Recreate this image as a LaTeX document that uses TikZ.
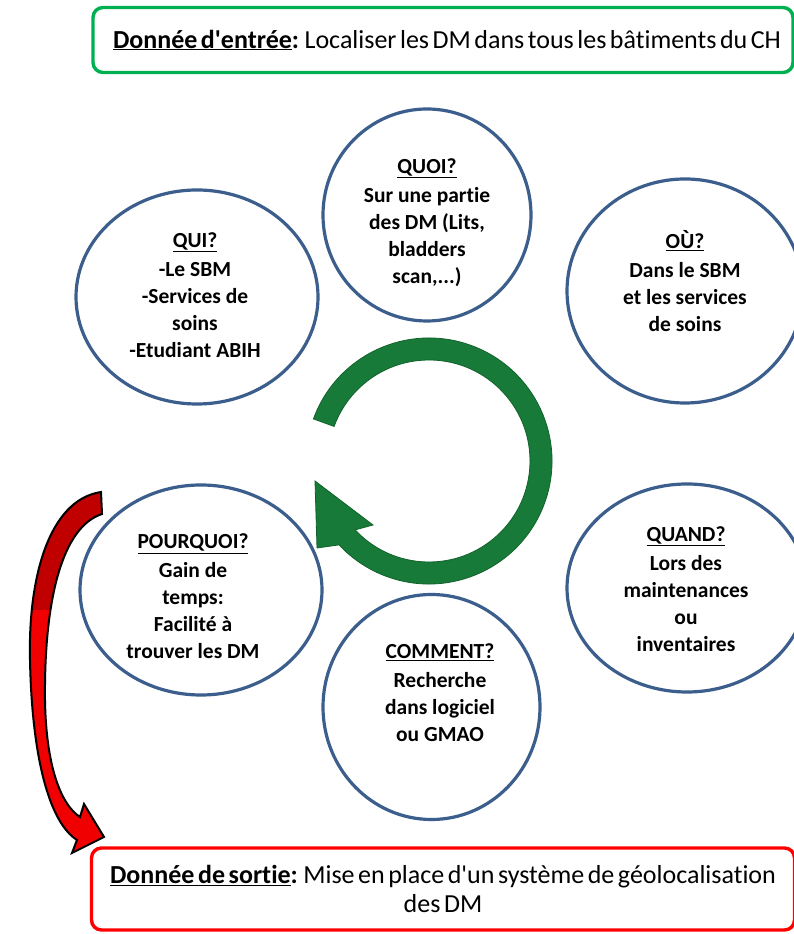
\documentclass[tikz,border=0pt]{standalone}
\usepackage{fontspec}
\setmainfont{Carlito}[Ligatures=CommonOff]
\newfontfamily\boxfont{Carlito}[Ligatures=CommonOff, WordSpace=0.6]
\usetikzlibrary{shapes.geometric,calc}
\definecolor{cblue}{RGB}{59,94,140}
\definecolor{boxgreen}{RGB}{0,176,80}
\definecolor{boxred}{RGB}{255,0,0}
\definecolor{arrgreen}{RGB}{24,122,56}
\definecolor{arrgreenedge}{RGB}{18,98,44}
\definecolor{reddark}{RGB}{192,0,0}
\definecolor{redlight}{RGB}{240,0,0}
\def\redarrowpath{(101,442) .. controls (48,434) and (28,354) .. (30,274) .. controls (32,174) and (50,111) .. (77,94) -- (72,81) -- (104,97) -- (84,130) -- (80,117) .. controls (60,130) and (46,170) .. (45,234) .. controls (44,334) and (62,407) .. (102,420) -- cycle}
\begin{document}
\begin{tikzpicture}[x=1pt,y=1pt,
  bubble/.style={draw=cblue, line width=3.2pt, ellipse, inner sep=0pt},
  bubbletext/.style={align=center, inner sep=0pt, font=\bfseries\fontsize{21.5}{27}\selectfont},
  framebox/.style={rounded corners=10pt, line width=3.4pt, fill=white},
  boxtext/.style={font=\boxfont\fontsize{26}{29}\selectfont}
]
\path[fill=white] (0,0) rectangle (794,934);
\useasboundingbox (0,0) rectangle (794,934);

% top input box
\node[framebox, draw=boxgreen, minimum width=700pt, minimum height=65pt,
  inner xsep=0pt, boxtext] (entree) at (443,894)
  {\makebox[680pt][l]{\hspace*{10pt}\textbf{\underline{Donnée d\textquotesingle entrée}:} Localiser les DM dans tous les bâtiments du CH}};

% bottom output box
\node[framebox, draw=boxred, minimum width=703pt, minimum height=82pt,
  align=center, boxtext] (sortie) at (443,45)
  {\textbf{\underline{Donnée de sortie}:} Mise en place d\textquotesingle un système de géolocalisation\\des DM};

% ellipses
\node[bubble, minimum width=242pt, minimum height=214pt] (qui) at (197,637) {};
\node[bubble, minimum width=208pt, minimum height=212pt] (quoi) at (427,719) {};
\node[bubble, minimum width=236pt, minimum height=224pt] (ou) at (685,643) {};
\node[bubble, minimum width=240pt, minimum height=208pt] (quand) at (687,346) {};
\node[bubble, minimum width=217pt, minimum height=225pt] (comment) at (431.5,227) {};
\node[bubble, minimum width=242pt, minimum height=210pt] (pourquoi) at (201,344) {};

% texts
\node[bubbletext] (quit) at (195,639) {\underline{QUI?}\\[2pt]-Le SBM\\-Services de\\soins\\-Etudiant ABIH};
\node[bubbletext] (quoit) at (427,711.5) {\underline{QUOI?}\\[2pt]Sur une partie\\des DM (Lits,\\bladders\\scan,...)};
\node[bubbletext] (out) at (685,652.5) {\underline{OÙ?}\\[2pt]Dans le SBM\\et les services\\de soins};
\node[bubbletext] (quandt) at (686,345) {\underline{QUAND?}\\[2pt]Lors des\\maintenances\\ou\\inventaires};
\node[bubbletext] (commentt) at (440,241.5) {\underline{COMMENT?}\\[2pt]Recherche\\dans logiciel\\ou GMAO};
\node[bubbletext] (pourquoit) at (193,337.5) {\underline{POURQUOI?}\\[2pt]Gain de\\temps:\\Facilité à\\trouver les DM};

% green circular arrow
\coordinate (gc) at (429,473);
\fill[arrgreen, draw=arrgreenedge, line width=0.8pt]
  ($(gc)+(160:123pt)$) arc[start angle=160, end angle=-137, radius=123pt]
  -- (317,386) -- (315,453) -- (373,409)
  -- ($(gc)+(-137:101pt)$) arc[start angle=-137, end angle=160, radius=101pt] -- cycle;

% red curved arrow
\fill[redlight] \redarrowpath;
\begin{scope}
  \clip (0,324) rectangle (200,934);
  \fill[reddark] \redarrowpath;
\end{scope}
\draw[black, line width=2pt, line join=miter] \redarrowpath;
\end{tikzpicture}
\end{document}
